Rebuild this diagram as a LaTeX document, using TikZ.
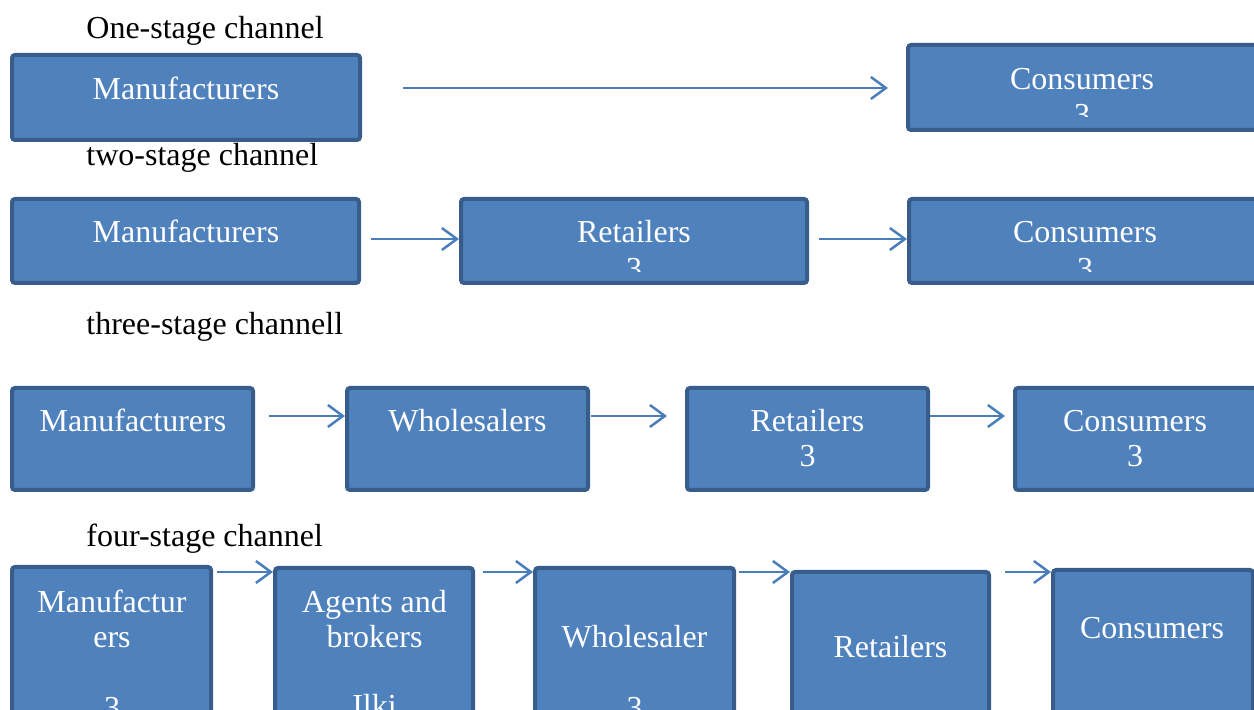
\documentclass[tikz,border=0pt]{standalone}
\usepackage{fontspec}
\setmainfont{Liberation Serif}
\usetikzlibrary{fit,arrows.meta}
\definecolor{boxfill}{HTML}{4F81BD}
\definecolor{boxline}{HTML}{385D8A}
\definecolor{arrowc}{HTML}{4A7EBB}
\tikzset{
  box/.style={draw=boxline, fill=boxfill, line width=2pt, rounded corners=1.5pt, inner sep=0pt},
  txt/.style={text=white, font=\fontsize{16pt}{19pt}\selectfont, inner sep=0pt, anchor=base},
  lbl/.style={text=black, font=\fontsize{16pt}{19pt}\selectfont, inner sep=0pt, anchor=base west},
  arr/.style={draw=arrowc, line width=1.25pt, -{Straight Barb[length=7.5pt,width=11pt,line width=1.25pt]}}
}
\begin{document}
\begin{tikzpicture}[x=0.5pt,y=-0.5pt]
\useasboundingbox (0,0) rectangle (1254,710);
\clip (0,0) rectangle (1254,710);

% ---------- labels
\node[lbl] (l1) at (86,39) {One-stage channel};
\node[lbl] (l2) at (86,166) {two-stage channel};
\node[lbl] (l3) at (86,335) {three-stage channell};
\node[lbl] (l4) at (86,547) {four-stage channel};

% ---------- row 1
\node[box, fit={(12,55)(360,140)}] (m1) {};
\node[box, fit={(908,45)(1258,130)}] (c1) {};
\node[txt] (m1t) at (186,100) {Manufacturers};
\node[txt] (c1t) at (1082,90) {Consumers};
\begin{scope}
  \clip (908,45) rectangle (1258,117);
  \node[txt] (c1n) at (1082,126) {3};
\end{scope}
\coordinate (a1s) at (403,88);
\coordinate (a1e) at (888,88);
\draw[arr] (a1s) -- (a1e);

% ---------- row 2
\node[box, fit={(12,199)(359,283)}] (m2) {};
\node[box, fit={(461,199)(807,283)}] (r2) {};
\node[box, fit={(909,199)(1262,283)}] (c2) {};
\node[txt] (m2t) at (186,243) {Manufacturers};
\node[txt] (r2t) at (634,243) {Retailers};
\node[txt] (c2t) at (1085,243) {Consumers};
\begin{scope}
  \clip (461,199) rectangle (807,272);
  \node[txt] (r2n) at (634,280) {3};
\end{scope}
\begin{scope}
  \clip (909,199) rectangle (1262,272);
  \node[txt] (c2n) at (1085,280) {3};
\end{scope}
\coordinate (a21) at (371,239);
\coordinate (a22) at (819,239);
\draw[arr] (a21) -- (r2.west |- a21);
\draw[arr] (a22) -- (c2.west |- a22);

% ---------- row 3
\node[box, fit={(12,388)(253,490)}] (m3) {};
\node[box, fit={(347,388)(588,490)}] (w3) {};
\node[box, fit={(687,388)(928,490)}] (r3) {};
\node[box, fit={(1015,388)(1257,490)}] (c3) {};
\node[txt] (m3t) at (133,432) {Manufacturers};
\node[txt] (w3t) at (467.5,432) {Wholesalers};
\node[txt] (r3t) at (807.5,432) {Retailers};
\node[txt] (c3t) at (1135,432) {Consumers};
\node[txt] (r3n) at (807.5,467) {3};
\node[txt] (c3n) at (1135,467) {3};
\coordinate (a31) at (269,416);
\coordinate (a32) at (591,416);
\coordinate (a32e) at (667,416);
\coordinate (a33) at (930,416);
\coordinate (a33e) at (1005,416);
\draw[arr] (a31) -- (w3.west |- a31);
\draw[arr] (a32) -- (a32e);
\draw[arr] (a33) -- (a33e);

% ---------- row 4
\node[box, fit={(12,567)(211,760)}] (m4) {};
\node[box, fit={(275,568)(473,760)}] (ag4) {};
\node[box, fit={(535,568)(734,760)}] (w4) {};
\node[box, fit={(792,572)(989,760)}] (r4) {};
\node[box, fit={(1053,570)(1253,760)}] (c4) {};
\node[txt] (m4t1) at (112,613) {Manufactur};
\node[txt] (m4t2) at (112,648) {ers};
\node[txt] (m4n) at (112,719) {3};
\node[txt] (ag4t1) at (374.5,613) {Agents and};
\node[txt] (ag4t2) at (374.5,648) {brokers};
\node[txt] (ag4n) at (374.5,717) {Ilki};
\node[txt] (w4t) at (634.5,648) {Wholesaler};
\node[txt] (w4n) at (634.5,719) {3};
\node[txt] (r4t) at (890.5,658) {Retailers};
\node[txt] (c4t) at (1152,639) {Consumers};
\coordinate (a41) at (217,572);
\coordinate (a42) at (483,572);
\coordinate (a43) at (739,572);
\coordinate (a44) at (1005,572);
\draw[arr] (a41) -- (ag4.west |- a41);
\draw[arr] (a42) -- (w4.west |- a42);
\draw[arr] (a43) -- (r4.west |- a43);
\draw[arr] (a44) -- (c4.west |- a44);
\end{tikzpicture}
\end{document}
